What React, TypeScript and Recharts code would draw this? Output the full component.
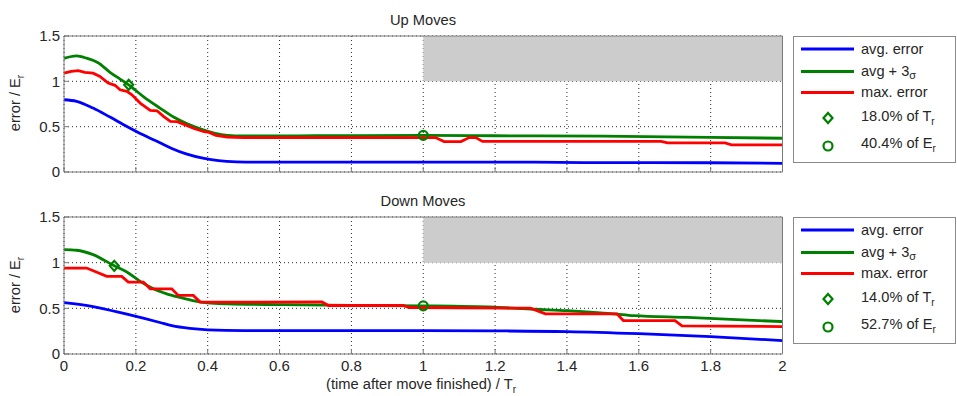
import React from 'react';
import {
  ComposedChart,
  Line,
  Scatter,
  XAxis,
  YAxis,
  CartesianGrid,
  ReferenceArea,
  Legend,
} from 'recharts';

// ---------- data ----------
const xTicks = [0, 0.2, 0.4, 0.6, 0.8, 1, 1.2, 1.4, 1.6, 1.8, 2];
const yTicks = [0, 0.5, 1, 1.5];

// Up moves: [time / Tr, error / Er]
const upAvg: [number, number][] = [
  [0, 0.797], [0.035, 0.78], [0.081, 0.705], [0.128, 0.606], [0.175, 0.503],
  [0.22, 0.41], [0.267, 0.322], [0.3, 0.26], [0.34, 0.2], [0.39, 0.15],
  [0.43, 0.125], [0.48, 0.112], [0.55, 0.108], [1.0, 0.108], [1.3, 0.108],
  [1.45, 0.103], [1.8, 0.102], [2.0, 0.096],
];
const upSig: [number, number][] = [
  [0, 1.253], [0.035, 1.28], [0.063, 1.255], [0.095, 1.205], [0.128, 1.1],
  [0.156, 1.025], [0.18, 0.962], [0.22, 0.834], [0.267, 0.705], [0.305, 0.606],
  [0.343, 0.532], [0.381, 0.474], [0.418, 0.43], [0.455, 0.405], [0.5, 0.398],
  [0.7, 0.4], [1.0, 0.404], [1.2, 0.4], [1.5, 0.395], [1.8, 0.383], [2.0, 0.372],
];
const upMax: [number, number][] = [
  [0, 1.09], [0.02, 1.11], [0.04, 1.117], [0.058, 1.1], [0.081, 1.09],
  [0.1, 1.054], [0.123, 0.981], [0.142, 0.956], [0.156, 0.907], [0.175, 0.889],
  [0.189, 0.852], [0.212, 0.76], [0.24, 0.68], [0.259, 0.675], [0.277, 0.613],
  [0.296, 0.558], [0.315, 0.555], [0.338, 0.52], [0.362, 0.48], [0.39, 0.444],
  [0.404, 0.437], [0.423, 0.404], [0.455, 0.386], [0.5, 0.38], [1.034, 0.38],
  [1.058, 0.335], [1.105, 0.335], [1.128, 0.38], [1.146, 0.38], [1.165, 0.338],
  [1.662, 0.338], [1.68, 0.322], [1.84, 0.322], [1.858, 0.3], [2.0, 0.3],
];
const upTimeMark: [number, number][] = [[0.18, 0.962]];
const upErrMark: [number, number][] = [[1.0, 0.404]];

// Down moves
const downAvg: [number, number][] = [
  [0, 0.563], [0.081, 0.52], [0.175, 0.436], [0.267, 0.345], [0.3, 0.31],
  [0.35, 0.28], [0.4, 0.265], [0.5, 0.257], [1.0, 0.256], [1.2, 0.253],
  [1.4, 0.245], [1.6, 0.222], [1.8, 0.19], [2.0, 0.147],
];
const downSig: [number, number][] = [
  [0, 1.143], [0.035, 1.136], [0.081, 1.088], [0.14, 0.965], [0.175, 0.897],
  [0.212, 0.795], [0.249, 0.714], [0.286, 0.659], [0.323, 0.619], [0.362, 0.582],
  [0.399, 0.56], [0.455, 0.549], [0.6, 0.54], [0.8, 0.532], [1.0, 0.527],
  [1.197, 0.512], [1.309, 0.49], [1.401, 0.475], [1.53, 0.44], [1.586, 0.42],
  [1.735, 0.4], [1.827, 0.385], [1.92, 0.368], [2.0, 0.355],
];
const downMax: [number, number][] = [
  [0, 0.941], [0.063, 0.941], [0.119, 0.85], [0.161, 0.85], [0.179, 0.787],
  [0.221, 0.787], [0.24, 0.714], [0.3, 0.714], [0.318, 0.641], [0.36, 0.641],
  [0.379, 0.568], [0.718, 0.57], [0.736, 0.531], [0.945, 0.531], [0.96, 0.509],
  [1.298, 0.502], [1.34, 0.44], [1.539, 0.44], [1.557, 0.366], [1.701, 0.366],
  [1.72, 0.308], [2.0, 0.3],
];
const downTimeMark: [number, number][] = [[0.14, 0.965]];
const downErrMark: [number, number][] = [[1.0, 0.527]];

const upLabels = { t: '18.0%', e: '40.4%' };
const downLabels = { t: '14.0%', e: '52.7%' };

// ---------- styles ----------
const BLUE = '#0000ff';
const GREEN = '#008000';
const RED = '#ff0000';
const AXIS = '#7a7a7a';
const TEXT = '#262626';
const FONT = '"Liberation Sans", Arial, Helvetica, sans-serif';
const tickStyle = { fill: TEXT, fontSize: 15, fontFamily: FONT };
const LW = 2.8;

const toData = (pts: [number, number][]) => pts.map(([x, y]) => ({ x, y }));

const DiamondShape = (props: any) => {
  const { cx, cy } = props;
  const s = 5;
  return (
    <polygon
      points={`${cx},${cy - s} ${cx + s - 0.5},${cy} ${cx},${cy + s} ${cx - s + 0.5},${cy}`}
      fill="none"
      stroke={GREEN}
      strokeWidth={2.2}
    />
  );
};
const CircleShape = (props: any) => {
  const { cx, cy } = props;
  return <circle cx={cx} cy={cy} r={4.5} fill="none" stroke={GREEN} strokeWidth={2.2} />;
};

const Sub = ({ children }: { children: React.ReactNode }) => (
  <tspan dy={4} fontSize={10}>{children}</tspan>
);

function LegendBox({ t, e }: { t: string; e: string }) {
  const ts = { fontSize: 14.6, fontFamily: FONT, fill: TEXT } as any;
  return (
    <svg width={163} height={127} style={{ display: 'block' }}>
      <rect x={0.5} y={0.5} width={162} height={126} fill="#fff" stroke="#8a8a8a" strokeWidth={1} />
      <line x1={8} x2={61} y1={13} y2={13} stroke={BLUE} strokeWidth={LW} />
      <text x={68} y={17.5} {...ts}>avg. error</text>
      <line x1={8} x2={61} y1={35.5} y2={35.5} stroke={GREEN} strokeWidth={LW} />
      <text x={68} y={40} {...ts}>
        avg + 3<tspan dy={3} fontSize={11}>σ</tspan>
      </text>
      <line x1={8} x2={61} y1={56.5} y2={56.5} stroke={RED} strokeWidth={LW} />
      <text x={68} y={61} {...ts}>max. error</text>
      <DiamondShape cx={35} cy={82} />
      <text x={68} y={84.5} {...ts}>
        {t} of T<Sub>r</Sub>
      </text>
      <CircleShape cx={35} cy={110} />
      <text x={68} y={112.3} {...ts}>
        {e} of E<Sub>r</Sub>
      </text>
    </svg>
  );
}

type PanelProps = {
  avg: [number, number][];
  sig: [number, number][];
  max: [number, number][];
  tMark: [number, number][];
  eMark: [number, number][];
  labels: { t: string; e: string };
  height: number;
  xAxisHeight: number;
  showX: boolean;
};

function Panel({ avg, sig, max, tMark, eMark, labels, height, xAxisHeight, showX }: PanelProps) {
  return (
    <ComposedChart
      width={957}
      height={height}
      margin={{ top: 35, right: 173.5, bottom: 0, left: 14 }}
    >
      <ReferenceArea x1={1} x2={2} y1={1} y2={1.5} fill="#cccccc" fillOpacity={1} stroke="none" />
      <CartesianGrid stroke="#2a2a2a" strokeWidth={1} strokeDasharray="1 3" />
      <XAxis
        dataKey="x"
        type="number"
        domain={[0, 2]}
        ticks={xTicks}
        interval={0}
        height={xAxisHeight}
        tick={tickStyle}
        tickFormatter={(v: number) => (showX ? String(v) : '')}
        tickSize={-5}
        tickMargin={11}
        axisLine={{ stroke: AXIS }}
        tickLine={{ stroke: AXIS }}
      />
      <XAxis
        xAxisId="top"
        orientation="top"
        type="number"
        domain={[0, 2]}
        ticks={xTicks}
        interval={0}
        height={1}
        tick={tickStyle}
        tickFormatter={() => ''}
        tickSize={-5}
        axisLine={{ stroke: AXIS }}
        tickLine={{ stroke: AXIS }}
      />
      <YAxis
        type="number"
        domain={[0, 1.5]}
        ticks={yTicks}
        interval={0}
        width={50}
        tick={tickStyle}
        tickFormatter={(v: number) => String(v)}
        tickSize={-5}
        tickMargin={9}
        axisLine={{ stroke: AXIS }}
        tickLine={{ stroke: AXIS }}
      />
      <YAxis
        yAxisId="right"
        orientation="right"
        type="number"
        domain={[0, 1.5]}
        ticks={yTicks}
        interval={0}
        width={1}
        tick={tickStyle}
        tickFormatter={() => ''}
        tickSize={-5}
        axisLine={{ stroke: AXIS }}
        tickLine={{ stroke: AXIS }}
      />
      <Line data={toData(avg)} dataKey="y" name="avg. error" type="monotone" stroke={BLUE} strokeWidth={LW} dot={false} isAnimationActive={false} />
      <Line data={toData(sig)} dataKey="y" name="avg + 3σ" type="monotone" stroke={GREEN} strokeWidth={LW} dot={false} isAnimationActive={false} />
      <Line data={toData(max)} dataKey="y" name="max. error" type="linear" stroke={RED} strokeWidth={LW} dot={false} isAnimationActive={false} />
      <Scatter data={toData(tMark)} dataKey="y" name={`${labels.t} of Tr`} shape={DiamondShape} isAnimationActive={false} />
      <Scatter data={toData(eMark)} dataKey="y" name={`${labels.e} of Er`} shape={CircleShape} isAnimationActive={false} />
      <Legend
        layout="vertical"
        align="center"
        verticalAlign="middle"
        content={() => <LegendBox t={labels.t} e={labels.e} />}
        wrapperStyle={{ left: 793, top: 36, width: 163, height: 127 }}
      />
    </ComposedChart>
  );
}

export default function App() {
  const txt = { fontSize: 14.7, fontFamily: FONT, fill: TEXT } as any;
  return (
    <div style={{ position: 'absolute', left: 0, top: 0, width: 957, height: 396, background: '#fff', overflow: 'hidden' }}>
      <div style={{ position: 'absolute', left: 0, top: 0 }}>
        <Panel avg={upAvg} sig={upSig} max={upMax} tMark={upTimeMark} eMark={upErrMark} labels={upLabels} height={180} xAxisHeight={8} showX={false} />
      </div>
      <div style={{ position: 'absolute', left: 0, top: 181 }}>
        <Panel avg={downAvg} sig={downSig} max={downMax} tMark={downTimeMark} eMark={downErrMark} labels={downLabels} height={215} xAxisHeight={42} showX={true} />
      </div>
      <svg width={957} height={396} style={{ position: 'absolute', left: 0, top: 0, pointerEvents: 'none' }}>
        <text x={423} y={25} textAnchor="middle" {...txt}>Up Moves</text>
        <text x={423} y={205.5} textAnchor="middle" {...txt}>Down Moves</text>
        <text transform="translate(19.5,103) rotate(-90)" textAnchor="middle" {...txt}>
          error / E<Sub>r</Sub>
        </text>
        <text transform="translate(19.5,285) rotate(-90)" textAnchor="middle" {...txt}>
          error / E<Sub>r</Sub>
        </text>
        <text x={421} y={388.5} textAnchor="middle" {...txt}>
          (time after move finished) / T<Sub>r</Sub>
        </text>
      </svg>
    </div>
  );
}
